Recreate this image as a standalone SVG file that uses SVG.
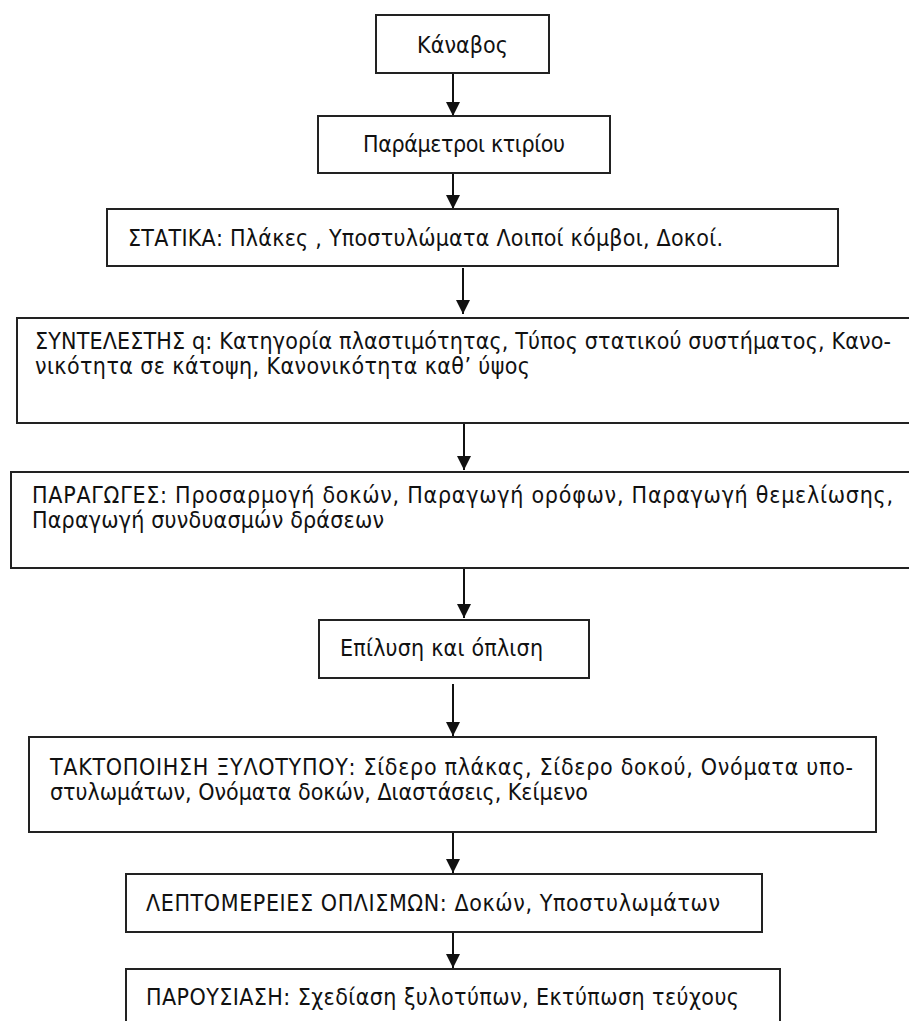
<svg xmlns="http://www.w3.org/2000/svg" width="909" height="1021" viewBox="0 0 909 1021">
<defs>
<marker id="ah" markerWidth="14" markerHeight="14" refX="14" refY="7" orient="auto" markerUnits="userSpaceOnUse">
<path d="M0,0 L14,7 L0,14 Z" fill="#111"/>
</marker>
<style>
.box{fill:#fff;stroke:#222;stroke-width:2}
.t{font-family:"DejaVu Sans Condensed","DejaVu Sans",sans-serif;font-size:23px;fill:#111}
.c{stroke:#111;stroke-width:2;fill:none;marker-end:url(#ah)}
</style>
</defs>
<rect width="909" height="1021" fill="#fff"/>
<g id="connectors">
<line class="c" x1="453" y1="73" x2="453" y2="116"/>
<line class="c" x1="453" y1="173" x2="453" y2="209"/>
<line class="c" x1="463" y1="268" x2="463" y2="314"/>
<line class="c" x1="464" y1="423" x2="464" y2="470"/>
<line class="c" x1="464" y1="568" x2="464" y2="618"/>
<line class="c" x1="453" y1="684" x2="453" y2="736"/>
<line class="c" x1="453" y1="832" x2="453" y2="873"/>
<line class="c" x1="453" y1="932" x2="453" y2="968"/>
</g>
<g id="n1">
<rect class="box" x="376" y="15" width="173" height="58"/>
<text class="t" x="417" y="53" textLength="91">Κάναβος</text>
</g>
<g id="n2">
<rect class="box" x="318" y="116" width="292" height="57"/>
<text class="t" x="363" y="152" textLength="202">Παράμετροι κτιρίου</text>
</g>
<g id="n3">
<rect class="box" x="107" y="209" width="731" height="57"/>
<text class="t" x="128" y="246" textLength="595">ΣΤΑΤΙΚΑ: Πλάκες , Υποστυλώματα Λοιποί κόμβοι, Δοκοί.</text>
</g>
<g id="n4">
<rect class="box" x="17" y="318" width="900" height="105"/>
<text class="t" x="35" y="349" textLength="856">ΣΥΝΤΕΛΕΣΤΗΣ q: Κατηγορία πλαστιμότητας, Τύπος στατικού συστήματος, Κανο-</text>
<text class="t" x="35" y="374" textLength="495">νικότητα σε κάτοψη, Κανονικότητα καθ’ ύψος</text>
</g>
<g id="n5">
<rect class="box" x="11" y="472" width="906" height="96"/>
<text class="t" x="32" y="503" textLength="861">ΠΑΡΑΓΩΓΕΣ: Προσαρμογή δοκών, Παραγωγή ορόφων, Παραγωγή θεμελίωσης,</text>
<text class="t" x="32" y="528" textLength="352">Παραγωγή συνδυασμών δράσεων</text>
</g>
<g id="n6">
<rect class="box" x="319" y="620" width="270" height="58"/>
<text class="t" x="340" y="656" textLength="203">Επίλυση και όπλιση</text>
</g>
<g id="n7">
<rect class="box" x="29" y="737" width="847" height="95"/>
<text class="t" x="50" y="775" textLength="803">ΤΑΚΤΟΠΟΙΗΣΗ ΞΥΛΟΤΥΠΟΥ: Σίδερο πλάκας, Σίδερο δοκού, Ονόματα υπο-</text>
<text class="t" x="50" y="800" textLength="538">στυλωμάτων, Ονόματα δοκών, Διαστάσεις, Κείμενο</text>
</g>
<g id="n8">
<rect class="box" x="126" y="874" width="636" height="58"/>
<text class="t" x="146" y="911" textLength="574">ΛΕΠΤΟΜΕΡΕΙΕΣ ΟΠΛΙΣΜΩΝ: Δοκών, Υποστυλωμάτων</text>
</g>
<g id="n9">
<rect class="box" x="126" y="969" width="654" height="70"/>
<text class="t" x="146" y="1005" textLength="593">ΠΑΡΟΥΣΙΑΣΗ: Σχεδίαση ξυλοτύπων, Εκτύπωση τεύχους</text>
</g>
</svg>
